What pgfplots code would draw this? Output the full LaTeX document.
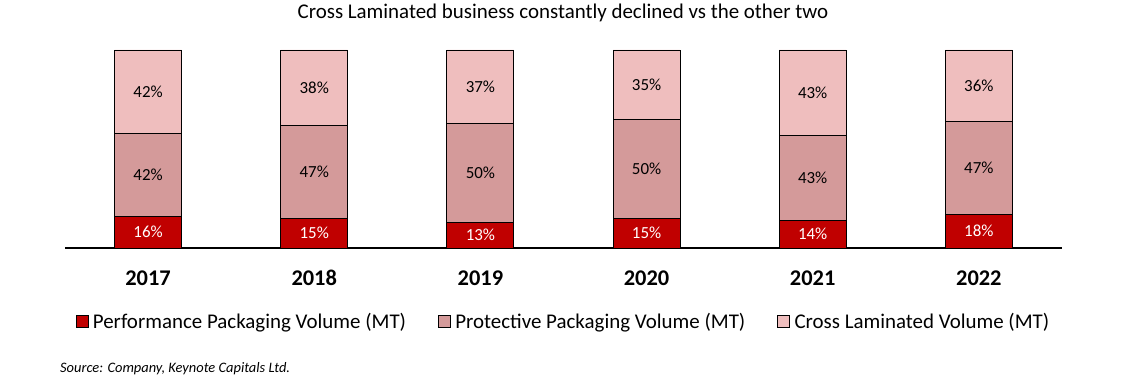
\documentclass[border=0pt]{standalone}
\usepackage{pgfplots}
\pgfplotsset{compat=1.18}
\usepackage{pgfplotstable}
\usepackage{fontspec}
\setmainfont{Carlito}
\definecolor{perf}{HTML}{C00000}
\definecolor{prot}{HTML}{D49A9A}
\definecolor{cross}{HTML}{EFBEBE}
\pgfplotstableread{
x v lab
0 16 16
1 15 15
2 13 13
3 15 15
4 14 14
5 17 18
}\perfdata
\pgfplotstableread{
x v lab
0 42 42
1 47 47
2 50 50
3 50 50
4 43 43
5 47 47
}\protdata
\pgfplotstableread{
x v lab
0 42 42
1 38 38
2 37 37
3 35 35
4 43 43
5 36 36
}\crossdata
\begin{document}
\begin{tikzpicture}
\useasboundingbox (0,0) rectangle (1125bp,388bp);
\begin{axis}[
  anchor=south west, at={(65bp,140bp)},
  scale only axis, width=997bp, height=198bp,
  ybar stacked, bar width=67bp,
  xmin=-0.5, xmax=5.5, ymin=0, ymax=100,
  axis x line*=bottom, axis y line=none,
  x axis line style={line width=1.6bp, -},
  xtick=data, xticklabels={2017,2018,2019,2020,2021,2022},
  xtick style={draw=none},
  xticklabel style={font=\fontsize{22.5}{26}\selectfont\bfseries, anchor=base, yshift=-37bp},
  ytick=\empty,
  point meta=explicit symbolic,
  nodes near coords={\pgfplotspointmeta\%},
  every node near coord/.append style={anchor=center, font=\fontsize{17}{20}\selectfont},
  legend columns=3,
  legend style={at={(0.5,-0.37)}, anchor=center, draw=none, fill=none,
    font=\fontsize{21}{25}\selectfont,
    /tikz/every even column/.append style={column sep=30bp}},
  legend image code/.code={\draw[#1, draw=black, line width=0.6bp] (0bp,-6bp) rectangle (12bp,6bp); \path[draw=none, fill=none] (0bp,0bp) -- (15bp,0bp);},
]
\addplot[fill=perf, draw=black, line width=0.9bp, every node near coord/.append style={text=white}] table[x=x,y=v,meta=lab] {\perfdata};
\addlegendentry{Performance Packaging Volume (MT)}
\addplot[fill=prot, draw=black, line width=0.9bp] table[x=x,y=v,meta=lab] {\protdata};
\addlegendentry{Protective Packaging Volume (MT)}
\addplot[fill=cross, draw=black, line width=0.9bp] table[x=x,y=v,meta=lab] {\crossdata};
\addlegendentry{Cross Laminated Volume (MT)}
\end{axis}
\node[font=\fontsize{21}{25}\selectfont] at (563bp,375bp) {Cross Laminated business constantly declined vs the other two};
\node[anchor=west, font=\fontsize{14.5}{17}\selectfont\itshape, inner sep=0pt] at (60bp,19bp) {Source: Company, Keynote Capitals Ltd.};
\end{tikzpicture}
\end{document}
